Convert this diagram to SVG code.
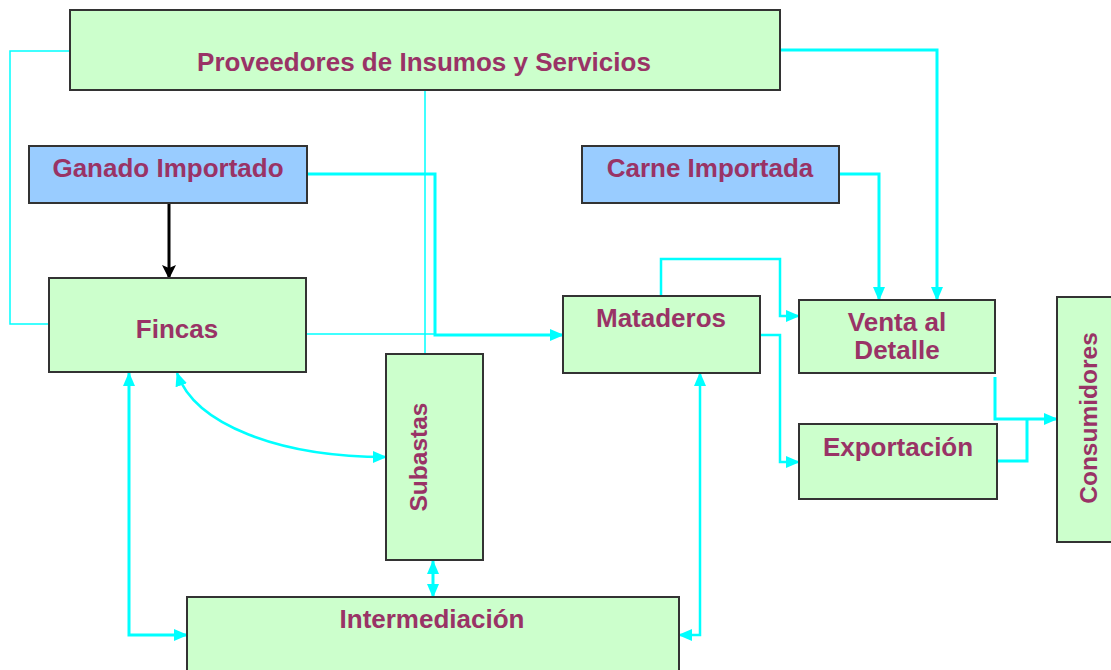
<svg xmlns="http://www.w3.org/2000/svg" width="1111" height="670" viewBox="0 0 1111 670">
<style>
.g{fill:#CCFFCC;stroke:#333;stroke-width:2}
.b{fill:#99CCFF;stroke:#333;stroke-width:2}
.t{font-family:"Liberation Sans",Arial,sans-serif;font-weight:bold;font-size:26px;fill:#993366;text-anchor:middle}
.r{font-size:24.5px}
.c{fill:none;stroke:#00FFFF}
.thin{stroke-width:1.5}
.mid{stroke-width:2.5}
.thick{stroke-width:3}
</style>
<defs>
<marker id="a" viewBox="0 0 14 12" refX="13" refY="6" markerWidth="14" markerHeight="12" markerUnits="userSpaceOnUse" orient="auto-start-reverse">
<path d="M0,0 L14,6 L0,12 z" fill="#00FFFF"/>
</marker>
<marker id="k" viewBox="0 0 14 14" refX="13" refY="7" markerWidth="14" markerHeight="14" markerUnits="userSpaceOnUse" orient="auto">
<path d="M0,0 L14,7 L0,14 L3,7 z" fill="#000"/>
</marker>
</defs>
<rect width="1111" height="670" fill="#FFFFFF"/>
<g id="connectors">
<path class="c thin" d="M70,51 H10 V324 H49"/>
<path class="c thin" d="M425,90 V354"/>
<path class="c thick" d="M780,50 H937 V300" marker-end="url(#a)"/>
<path class="c thin" d="M306,334 H435"/>
<path class="c thick" d="M307,174 H435 V335 H563" marker-end="url(#a)"/>
<path d="M169,203 V278" fill="none" stroke="#000" stroke-width="3" marker-end="url(#k)"/>
<path class="c mid" d="M177,373 C195,425 280,457 386,457" marker-start="url(#a)" marker-end="url(#a)"/>
<path class="c thick" d="M129,373 V635 H187" marker-start="url(#a)" marker-end="url(#a)"/>
<path class="c thick" d="M433,561 V597" marker-start="url(#a)" marker-end="url(#a)"/>
<path class="c mid" d="M700,373 V635 H679" marker-start="url(#a)" marker-end="url(#a)"/>
<path class="c mid" d="M661,296 V259 H780 V316 H799" marker-end="url(#a)"/>
<path class="c mid" d="M760,335 H780 V462 H799" marker-end="url(#a)"/>
<path class="c thick" d="M839,174 H879 V300" marker-end="url(#a)"/>
<path class="c thick" d="M995,377 V419 H1057" marker-end="url(#a)"/>
<path class="c thick" d="M997,461 H1027 V419"/>
</g>
<g id="proveedores"><rect class="g" x="70" y="10" width="710" height="80"/><text class="t" x="424" y="71">Proveedores de Insumos y Servicios</text></g>
<g id="ganado"><rect class="b" x="29" y="146" width="278" height="57"/><text class="t" x="168" y="177">Ganado Importado</text></g>
<g id="carne"><rect class="b" x="582" y="146" width="257" height="57"/><text class="t" x="710" y="177">Carne Importada</text></g>
<g id="fincas"><rect class="g" x="49" y="278" width="257" height="94"/><text class="t" x="177" y="338">Fincas</text></g>
<g id="subastas"><rect class="g" x="386" y="354" width="97" height="206"/><text class="t r" transform="translate(427,457) rotate(-90)">Subastas</text></g>
<g id="mataderos"><rect class="g" x="563" y="296" width="197" height="77"/><text class="t" x="661" y="327">Mataderos</text></g>
<g id="venta"><rect class="g" x="799" y="300" width="196" height="73"/><text class="t" x="897" y="331">Venta al</text><text class="t" x="897" y="359">Detalle</text></g>
<g id="exportacion"><rect class="g" x="799" y="424" width="198" height="75"/><text class="t" x="898" y="456">Exportación</text></g>
<g id="consumidores"><rect class="g" x="1057" y="297" width="70" height="245"/><text class="t r" transform="translate(1097,418) rotate(-90)">Consumidores</text></g>
<g id="intermediacion"><rect class="g" x="187" y="597" width="492" height="90"/><text class="t" x="432" y="628">Intermediación</text></g>
</svg>
